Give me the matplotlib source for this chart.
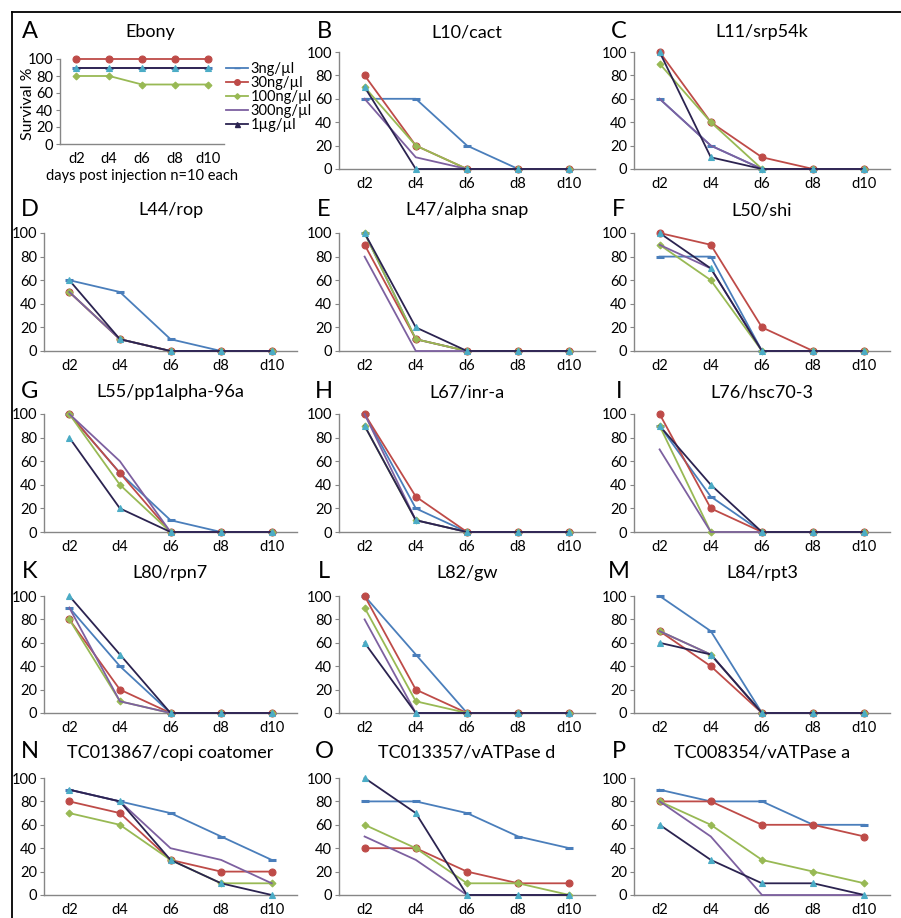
import matplotlib
matplotlib.use("Agg")
import matplotlib.pyplot as plt
from matplotlib.lines import Line2D

plt.rcParams['font.family'] = ['Lato', 'DejaVu Sans']

days = ["d2", "d4", "d6", "d8", "d10"]
doses = ["3ng/µl", "30ng/µl", "100ng/µl", "300ng/µl", "1µg/µl"]

# values per panel: rows = doses (3ng, 30ng, 100ng, 300ng, 1µg), cols = days
ebony = [[90, 90, 90, 90, 90], [100, 100, 100, 100, 100], [80, 80, 70, 70, 70],
         [90, 90, 90, 90, 90], [90, 90, 90, 90, 90]]
l10_cact = [[60, 60, 20, 0, 0], [80, 20, 0, 0, 0], [70, 20, 0, 0, 0],
            [60, 10, 0, 0, 0], [70, 0, 0, 0, 0]]
l11_srp54k = [[60, 20, 0, 0, 0], [100, 40, 10, 0, 0], [90, 40, 0, 0, 0],
              [60, 20, 0, 0, 0], [100, 10, 0, 0, 0]]
l44_rop = [[60, 50, 10, 0, 0], [50, 10, 0, 0, 0], [50, 10, 0, 0, 0],
           [50, 10, 0, 0, 0], [60, 10, 0, 0, 0]]
l47_alpha_snap = [[100, 10, 0, 0, 0], [90, 10, 0, 0, 0], [100, 10, 0, 0, 0],
                  [80, 0, 0, 0, 0], [100, 20, 0, 0, 0]]
l50_shi = [[80, 80, 0, 0, 0], [100, 90, 20, 0, 0], [90, 60, 0, 0, 0],
           [90, 70, 0, 0, 0], [100, 70, 0, 0, 0]]
l55_pp1 = [[100, 50, 10, 0, 0], [100, 50, 0, 0, 0], [100, 40, 0, 0, 0],
           [100, 60, 0, 0, 0], [80, 20, 0, 0, 0]]
l67_inr = [[100, 20, 0, 0, 0], [100, 30, 0, 0, 0], [90, 10, 0, 0, 0],
           [100, 10, 0, 0, 0], [90, 10, 0, 0, 0]]
l76_hsc = [[90, 30, 0, 0, 0], [100, 20, 0, 0, 0], [90, 0, 0, 0, 0],
           [70, 0, 0, 0, 0], [90, 40, 0, 0, 0]]
l80_rpn7 = [[90, 40, 0, 0, 0], [80, 20, 0, 0, 0], [80, 10, 0, 0, 0],
            [90, 10, 0, 0, 0], [100, 50, 0, 0, 0]]
l82_gw = [[100, 50, 0, 0, 0], [100, 20, 0, 0, 0], [90, 10, 0, 0, 0],
          [80, 0, 0, 0, 0], [60, 0, 0, 0, 0]]
l84_rpt3 = [[100, 70, 0, 0, 0], [70, 40, 0, 0, 0], [70, 50, 0, 0, 0],
            [70, 50, 0, 0, 0], [60, 50, 0, 0, 0]]
tc013867 = [[90, 80, 70, 50, 30], [80, 70, 30, 20, 20], [70, 60, 30, 10, 10],
            [90, 80, 40, 30, 10], [90, 80, 30, 10, 0]]
tc013357 = [[80, 80, 70, 50, 40], [40, 40, 20, 10, 10], [60, 40, 10, 10, 0],
            [50, 30, 0, 0, 0], [100, 70, 0, 0, 0]]
tc008354 = [[90, 80, 80, 60, 60], [80, 80, 60, 60, 50], [80, 60, 30, 20, 10],
            [80, 50, 0, 0, 0], [60, 30, 10, 10, 0]]

letters = ["B", "C", "D", "E", "F", "G", "H", "I", "K", "L", "M", "N", "O", "P"]
titles = ["L10/cact", "L11/srp54k", "L44/rop", "L47/alpha snap", "L50/shi",
          "L55/pp1alpha-96a", "L67/inr-a", "L76/hsc70-3", "L80/rpn7", "L82/gw",
          "L84/rpt3", "TC013867/copi coatomer", "TC013357/vATPase d",
          "TC008354/vATPase a"]
panel_data = [l10_cact, l11_srp54k, l44_rop, l47_alpha_snap, l50_shi, l55_pp1,
              l67_inr, l76_hsc, l80_rpn7, l82_gw, l84_rpt3, tc013867, tc013357,
              tc008354]

# styles
line_colors = ["#4A7EBB", "#BE4B48", "#98B954", "#7D60A0", "#2B2350"]
markers = ["_", "o", "D", None, "^"]
msizes = [6, 5, 3.5, 0, 4.5]
mfc = ["#4A7EBB", "#BE4B48", "#98B954", "#7D60A0", "#4BACC6"]

W, H = 901, 918
fig = plt.figure(figsize=(W / 100, H / 100), dpi=100)
AX = "#868686"
TICK_FS = 10.5


def add_ax(left, right, top, bottom):
    return fig.add_axes([left / W, 1 - bottom / H, (right - left) / W, (bottom - top) / H])


def style(ax):
    for s in ["top", "right"]:
        ax.spines[s].set_visible(False)
    for s in ["left", "bottom"]:
        ax.spines[s].set_color(AX)
        ax.spines[s].set_linewidth(1.0)
    ax.set_xlim(-0.5, 4.5)
    ax.set_ylim(0, 100)
    ax.set_yticks([0, 20, 40, 60, 80, 100])
    ax.set_xticks(range(len(days)))
    ax.set_xticklabels(days)
    ax.tick_params(axis="y", length=3, color=AX, labelsize=TICK_FS, pad=2)
    ax.tick_params(axis="x", length=0, labelsize=TICK_FS, pad=6)
    ax.patch.set_alpha(0)


def draw(ax, data):
    x = list(range(len(days)))
    for i, vals in enumerate(data):
        ax.plot(x, vals, color=line_colors[i], lw=1.3,
                marker=markers[i] if markers[i] else "None",
                ms=msizes[i], mfc=mfc[i], mec=mfc[i],
                mew=2.2 if markers[i] == "_" else 0.8,
                clip_on=False, zorder=3 + i)


# frame
fig.add_artist(Line2D([12 / W, 1], [1 - 12 / H, 1 - 12 / H], color="black", lw=1.3))
fig.add_artist(Line2D([12 / W, 12 / W], [1 - 12 / H, 0], color="black", lw=1.3))

# panel A
axA = add_ax(60, 224, 59, 144)
style(axA)
draw(axA, ebony)
axA.set_ylabel("Survival %", fontsize=11.5)
axA.yaxis.set_label_coords(-0.15, 0.47)
axA.set_xlabel("days post injection n=10 each", fontsize=10.5, labelpad=2)
fig.text(30 / W, 1 - 31 / H, "A", fontsize=17, ha="center", va="center")
fig.text(150 / W, 1 - 32 / H, "Ebony", fontsize=13, ha="center", va="center")
leg_handles = []
for i in range(5):
    leg_handles.append(Line2D([], [], color=line_colors[i], lw=1.3,
                              marker=markers[i] if markers[i] else "None",
                              ms=msizes[i] * 0.8,
                              mfc=line_colors[i], mec=line_colors[i]))
fig.legend(leg_handles, doses, loc="upper left",
           bbox_to_anchor=(226 / W, 1 - 62 / H), frameon=False, fontsize=10.5,
           handlelength=1.5, handletextpad=0.2, labelspacing=0.0,
           borderaxespad=0, borderpad=0)

col_lr = [(44, 297), (339, 595), (634, 890)]
row_tb = [(52, 169), (233, 351), (414, 532), (596, 713), (778, 895)]
title_y = [32, 210, 392, 573, 753]
letter_x = [30, 324, 619]

slots = [(0, 1), (0, 2), (1, 0), (1, 1), (1, 2), (2, 0), (2, 1), (2, 2),
         (3, 0), (3, 1), (3, 2), (4, 0), (4, 1), (4, 2)]
for k, (r, c) in enumerate(slots):
    l, rr = col_lr[c]
    t, b = row_tb[r]
    ax = add_ax(l, rr, t, b)
    style(ax)
    draw(ax, panel_data[k])
    fig.text(letter_x[c] / W, 1 - (title_y[r] - 1) / H, letters[k], fontsize=17,
             ha="center", va="center")
    fig.text((l + rr) / 2 / W, 1 - title_y[r] / H, titles[k], fontsize=13,
             ha="center", va="center")

fig.savefig("out.png", dpi=100)
